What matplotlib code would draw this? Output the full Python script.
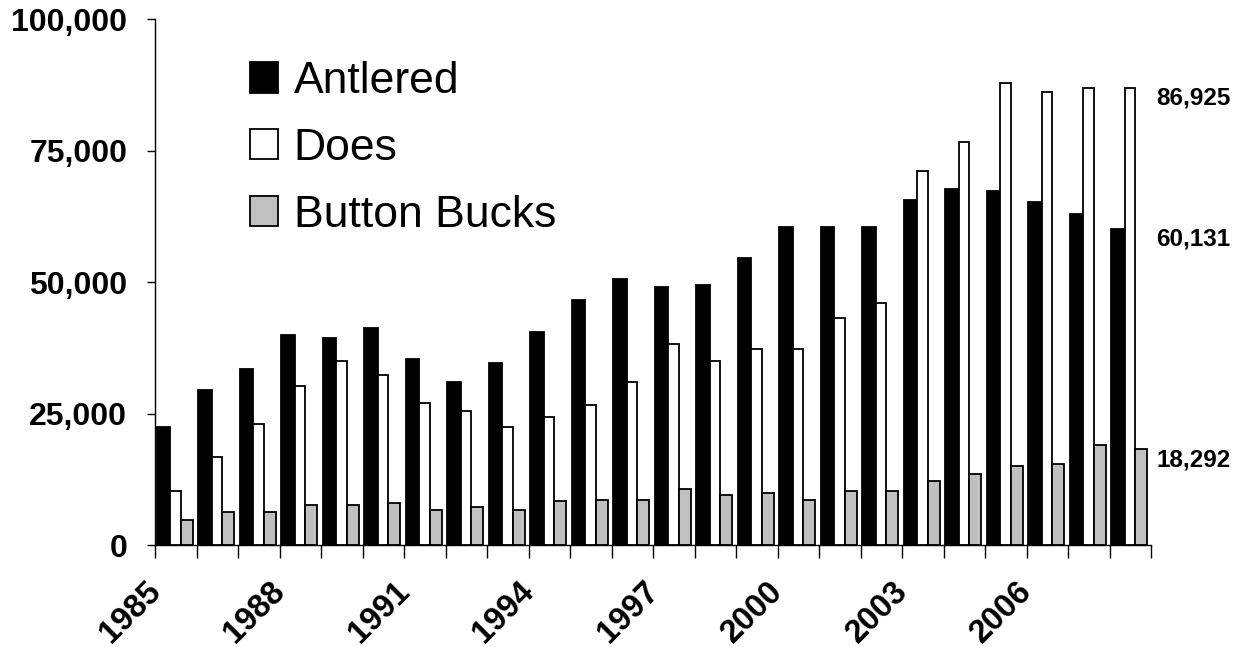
import matplotlib
matplotlib.use("Agg")
import matplotlib.pyplot as plt
from matplotlib.ticker import FuncFormatter, FixedLocator
from matplotlib.transforms import ScaledTranslation

# Harvest by year
years = list(range(1985, 2009))
antlered = [22400, 29500, 33500, 39900, 39500, 41400, 35500, 31100, 34700, 40600,
            46600, 50600, 49100, 49400, 54600, 60600, 60500, 60500, 65700, 67700,
            67300, 65300, 62900, 60131]
does = [10400, 16700, 23100, 30200, 35000, 32300, 27100, 25500, 22400, 24300,
        26700, 31100, 38200, 35000, 37400, 37400, 43300, 46100, 71200, 76700,
        87800, 86200, 87000, 86925]
button_bucks = [4800, 6400, 6400, 7600, 7600, 8000, 6800, 7200, 6800, 8400,
                8700, 8700, 10700, 9600, 10000, 8700, 10300, 10300, 12300, 13600,
                15100, 15500, 19100, 18292]
series_names = ["Antlered", "Does", "Button Bucks"]
y_ticks = [0, 25000, 50000, 75000, 100000]
labelled_years = [1985, 1988, 1991, 1994, 1997, 2000, 2003, 2006]

plt.rcParams["font.family"] = ["Liberation Sans", "DejaVu Sans"]

fig = plt.figure(figsize=(12.51, 6.47), dpi=100)
ax = fig.add_axes([155 / 1251, 1 - 545.3 / 647, (1151 - 155) / 1251, 526 / 647])

idx = list(range(len(years)))
lw = 1.3
ax.bar([i + 0.04 for i in idx], antlered, width=0.33, align="edge",
       color="black", edgecolor="black", linewidth=lw, label=series_names[0])
ax.bar([i + 0.37 for i in idx], does, width=0.25, align="edge",
       color="white", edgecolor="black", linewidth=lw, label=series_names[1])
ax.bar([i + 0.62 for i in idx], button_bucks, width=0.29, align="edge",
       color="#c0c0c0", edgecolor="black", linewidth=lw, label=series_names[2])

ax.set_xlim(0, len(years))
ax.set_ylim(0, 100000)

for side in ("top", "right"):
    ax.spines[side].set_visible(False)
for side in ("left", "bottom"):
    ax.spines[side].set_linewidth(1.0)

ax.yaxis.set_major_locator(FixedLocator(y_ticks))
ax.yaxis.set_major_formatter(FuncFormatter(lambda v, p: f"{int(v):,}"))
ax.tick_params(axis="y", direction="out", length=6, width=1.0, pad=14,
               labelsize=23)
for t in ax.get_yticklabels():
    t.set_fontweight("bold")

ax.set_xticks(idx + [len(years)])
ax.set_xticklabels([str(y) if y in labelled_years else "" for y in years] + [""],
                   rotation=45, ha="right", va="top", rotation_mode="anchor",
                   fontsize=23.5, fontweight="bold")
ax.tick_params(axis="x", direction="out", length=9, width=1.0, pad=13)
shift = ScaledTranslation(-10 / 100, 0, fig.dpi_scale_trans)
for t in ax.get_xticklabels():
    t.set_transform(t.get_transform() + shift)

# End-of-series value labels
last = len(years)
for val in (does[-1], antlered[-1], button_bucks[-1]):
    ax.annotate(f"{val:,}", xy=(last, val), xytext=(4, -7.5),
                textcoords="offset points", ha="left", va="center",
                fontsize=17.5, fontweight="bold", annotation_clip=False)

leg = ax.legend(loc="upper left", bbox_to_anchor=(250 / 1251, 1 - 61 / 647),
                bbox_transform=fig.transFigure, frameon=False, fontsize=32,
                handlelength=0.63, handleheight=0.68, handletextpad=0.35,
                labelspacing=0.58, borderpad=0, borderaxespad=0)

fig.savefig("out.png", dpi=100)
